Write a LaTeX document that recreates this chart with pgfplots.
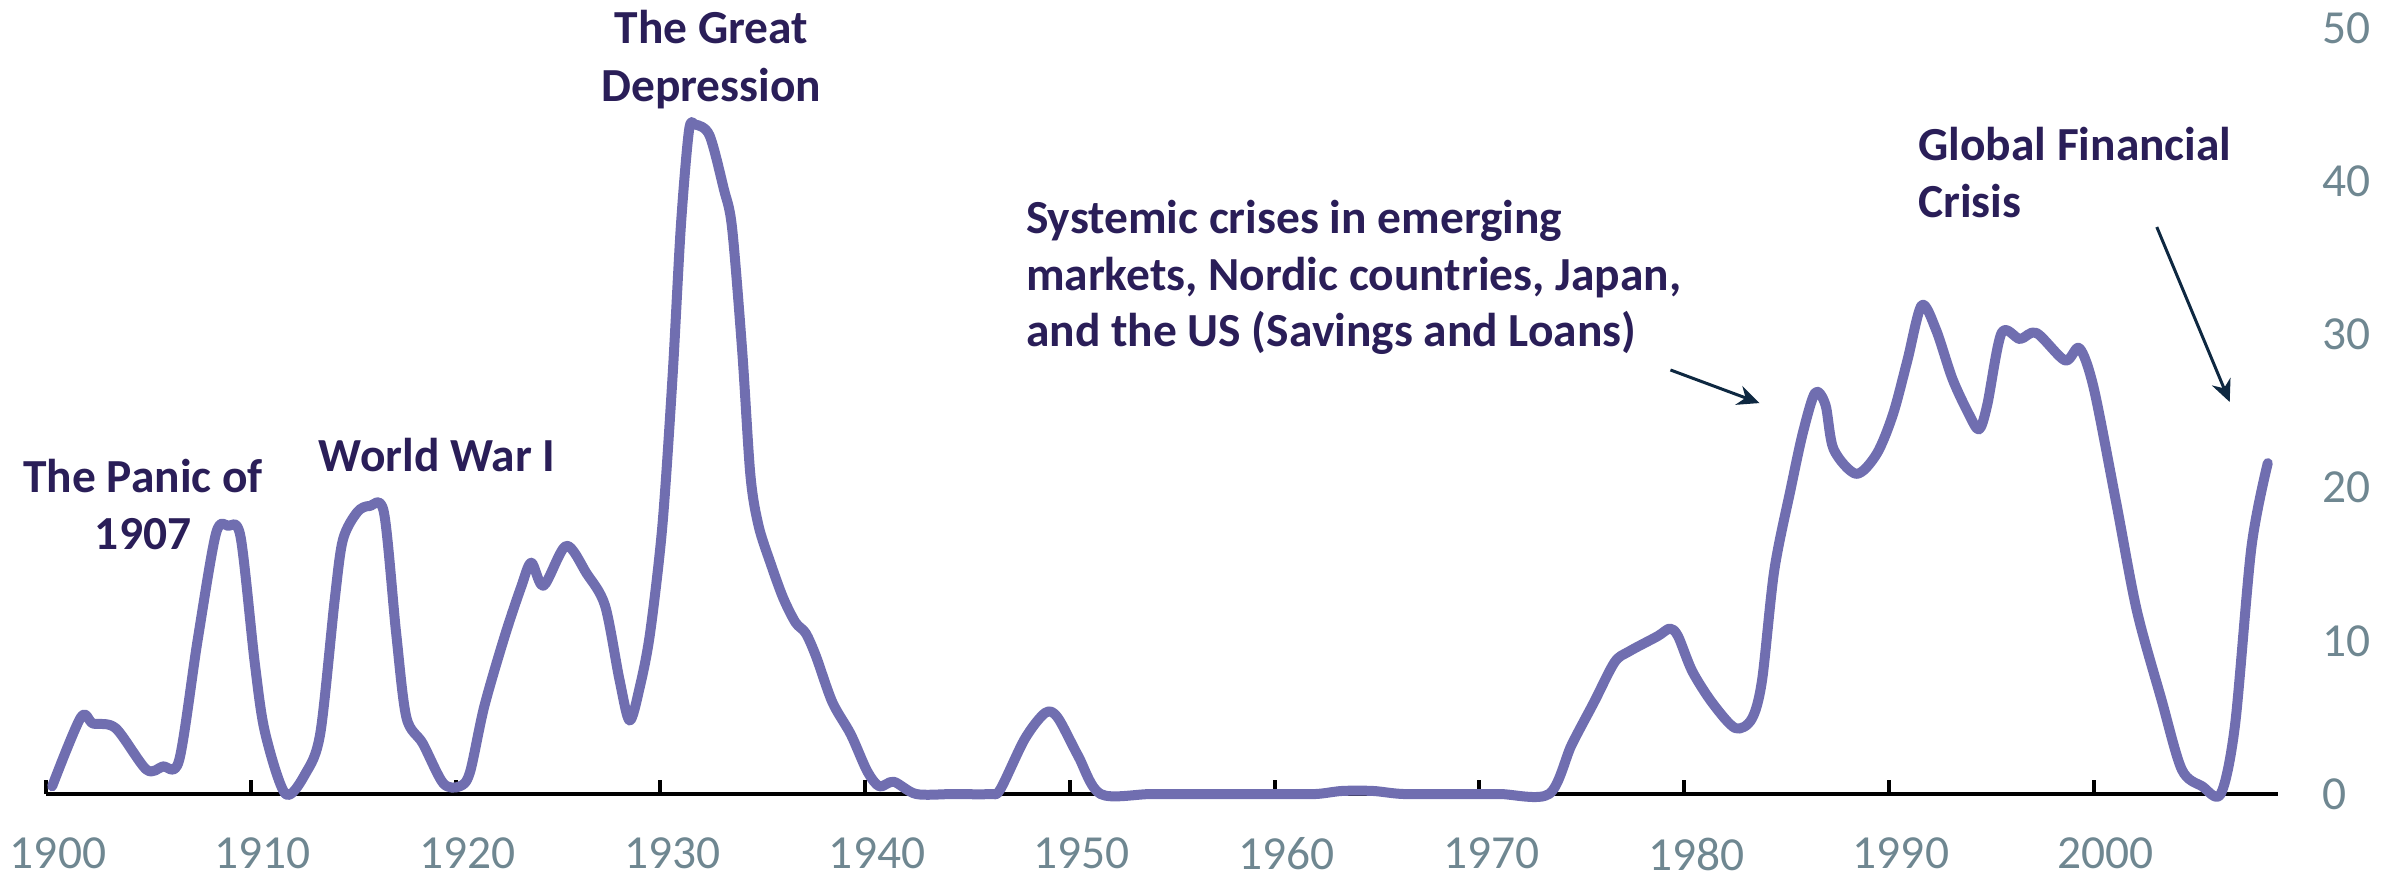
\documentclass[border=0pt]{standalone}
\usepackage{fontspec}
\setmainfont{Carlito}
\usepackage{pgfplots}
\pgfplotsset{compat=1.18}
\usetikzlibrary{arrows.meta}
\definecolor{lineC}{RGB}{112,110,176}
\definecolor{noteC}{RGB}{42,30,88}
\definecolor{tickC}{RGB}{111,135,145}
\definecolor{arrowC}{RGB}{14,40,65}

\pgfplotstableread{
year share
1900.3 0.5
1901.7 5.0
1902.3 4.6
1903.4 4.3
1904.9 1.6
1905.7 1.8
1906.5 2.2
1907.4 10.0
1908.3 17.0
1908.9 17.5
1909.5 16.8
1910.2 8.5
1910.7 4.0
1911.7 0.0
1912.7 1.4
1913.4 4.0
1914.1 12.7
1914.5 16.6
1915.2 18.4
1915.8 18.8
1916.5 18.4
1917.1 10.5
1917.6 5.0
1918.4 3.3
1919.4 0.7
1920.2 0.5
1920.7 1.4
1921.4 5.7
1922.4 10.3
1923.2 13.5
1923.7 15.1
1924.3 13.6
1925.4 16.2
1926.4 14.4
1927.3 12.3
1928.0 7.5
1928.5 4.8
1929.0 7.0
1929.5 10.5
1930.1 17.5
1930.6 27.3
1931.0 37.0
1931.4 43.3
1931.7 43.7
1932.4 43.0
1933.1 39.5
1933.5 37.0
1934.0 28.9
1934.4 20.8
1934.8 17.5
1935.4 15.0
1936.0 12.8
1936.6 11.2
1937.1 10.5
1937.6 9.0
1938.4 6.0
1939.3 3.9
1940.1 1.5
1940.7 0.5
1941.4 0.8
1942.5 0.0
1944.3 0.0
1946.1 0.0
1946.6 0.3
1947.8 3.6
1948.8 5.3
1949.4 5.0
1950.4 2.5
1951.5 0.0
1954.0 0.0
1957.0 0.0
1960.0 0.0
1962.0 0.0
1963.3 0.2
1964.8 0.2
1966.3 0.0
1969.0 0.0
1971.0 0.0
1973.4 0.0
1974.5 3.2
1975.6 6.0
1976.6 8.6
1977.3 9.3
1978.7 10.3
1979.3 10.8
1979.7 10.3
1980.4 8.0
1981.4 5.9
1982.5 4.3
1983.3 4.9
1983.8 7.4
1984.4 14.6
1985.2 19.9
1985.8 23.6
1986.4 26.2
1986.9 25.4
1987.3 22.5
1988.4 20.9
1989.4 22.2
1990.2 24.8
1990.9 28.3
1991.6 31.9
1992.3 30.3
1993.1 27.1
1993.9 24.8
1994.4 23.8
1994.8 25.4
1995.5 30.1
1996.4 29.7
1997.2 30.1
1998.6 28.3
1999.3 29.1
2000.0 26.5
2001.1 19.0
2002.1 12.0
2003.3 6.2
2004.3 1.6
2005.3 0.5
2006.2 0.0
2006.9 4.5
2007.7 16.1
2008.5 21.6
}\crisisdata

\tikzset{note/.style={inner sep=0pt, text=noteC,
    font=\fontsize{13.5}{16}\selectfont\bfseries}}

\begin{document}
\begin{tikzpicture}
\useasboundingbox (-4.6mm,-8.5mm) rectangle (235.6mm,79.4mm);
\begin{axis}[
    at={(0,0)}, anchor=south west,
    scale only axis,
    width=223.2mm, height=76.6mm,
    xmin=1900, xmax=2009,
    ymin=0, ymax=50,
    axis x line*=bottom,
    axis y line*=right,
    y axis line style={draw=none},
    x axis line style={line width=0.4mm, black},
    xtick={1900,1910,...,2000},
    ytick={0,10,...,50},
    ytick style={draw=none},
    xtick style={line width=0.4mm, black},
    major tick length=1.4mm,
    tick align=inside,
    clip=false,
    /pgf/number format/assume math mode=true,
    /pgf/number format/1000 sep={},
    ticklabel style={font=\fontsize{13.5}{16}\selectfont, text=tickC},
    xticklabel style={anchor=north, inner sep=0pt, yshift=-4.3mm, xshift=1.2mm},
    yticklabel style={anchor=west, inner sep=0pt, xshift=4.4mm},
]
\addplot[lineC, line width=1mm, smooth, tension=0.5, line cap=round, line join=round]
    table[x=year, y=share] {\crisisdata};

\node[note, anchor=base] at (axis cs:1904.74,19.71) {The Panic of};
\node[note, anchor=base] at (axis cs:1904.74,15.93) {1907};
\node[note, anchor=base] at (axis cs:1919.10,21.08) {World War I};
\node[note, anchor=base] at (axis cs:1932.49,49.02) {The Great};
\node[note, anchor=base] at (axis cs:1932.49,45.23) {Depression};
\node[note, anchor=base west] at (axis cs:1947.83,36.62) {Systemic crises in emerging};
\node[note, anchor=base west] at (axis cs:1947.83,32.90) {markets, Nordic countries, Japan,};
\node[note, anchor=base west] at (axis cs:1947.83,29.18) {and the US (Savings and Loans)};
\node[note, anchor=base west] at (axis cs:1991.40,41.38) {Global Financial};
\node[note, anchor=base west] at (axis cs:1991.40,37.60) {Crisis};

\draw[arrowC, line width=0.3mm, -{Stealth[length=2.2mm,width=2mm]}]
    (axis cs:1979.33,27.68) -- (axis cs:1983.68,25.52);
\draw[arrowC, line width=0.3mm, -{Stealth[length=2.2mm,width=2mm]}]
    (axis cs:2003.08,37.01) -- (axis cs:2006.64,25.59);
\end{axis}
\end{tikzpicture}
\end{document}
